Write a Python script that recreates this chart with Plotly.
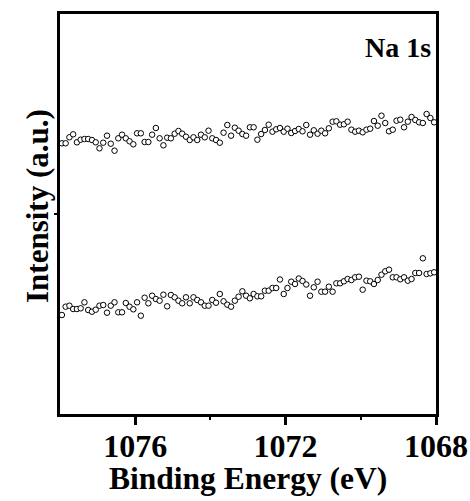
import numpy as np
import plotly.graph_objects as go

# Binding energy grid (eV), 0.1 eV step, high -> low
n_pts = 100
energy = np.round(1077.95 - 0.1 * np.arange(n_pts), 2)

upper_counts = [
    270.7, 270.7, 276.7, 279.7, 271.7, 274.3, 275, 275, 274, 271.7, 265.7, 271.3, 278.3, 270.3, 263.3,
    275.7, 279.3, 275.7, 272.7, 269.7, 280.7, 280.7, 272, 272, 279.3, 286, 275.7, 268.7, 276.3, 275.7,
    280.3, 283, 280.3,
    277.3, 274, 276.7, 274, 279.3, 276.7, 283.3, 275.7, 274, 271.3, 281.3, 289, 278.3, 286.3, 283.3,
    280, 278.3, 286.7, 286.7, 274.3, 280, 284, 289.3, 282.3, 284.7, 286, 282.3, 285.3, 281, 283, 285,
    282.7, 289,
    279.3, 283.7, 280.3, 283.3, 280.7, 285.7, 292.3, 292.7, 289.3, 289.7, 292.3, 284.3, 282.3, 283.3,
    281.7, 284.3, 285.3, 293, 288.3, 298.3, 291, 282.7, 284.3, 293.3, 294.3, 286.7, 292.3, 297, 294,
    291.7, 291, 300, 296, 291.7,
]

lower_counts = [
    99, 107.3, 108.3, 105, 105, 105.7, 111.7, 104, 102.3, 104.3, 108.3, 109, 101.3, 108.3, 111.7,
    101.7, 101.7, 111, 107.3, 104.7, 111.7, 98.3, 116.3, 110.7, 118.3, 115, 113.3, 119.3, 107.7, 119,
    116.7, 113.3, 110.7,
    116.7, 110.7, 116.7, 114, 111.7, 108.3, 108.3, 114, 111.3, 120, 112.7, 109.3, 107.3, 113.3, 117.3,
    122.7, 118.3, 115.7,
    120, 117.7, 117.7, 123.3, 123.3, 126, 126, 134.5, 120, 126, 132.3, 130, 135.5, 133, 129.5, 118.3,
    126.7, 132.3, 122.3, 122.3, 127.3, 122.3, 130.7, 130.7, 132.7, 135, 134, 136.7, 137.3, 124.3,
    133.3, 132.7, 130, 134, 139.3, 142.7, 144.3, 136.7, 136.7, 134.7, 136.7, 133.3, 135, 141, 141,
    155.7, 140, 140.7, 141.7,
]

x_ticks = [1076, 1072, 1068]
x_tick_labels = ["1076", "1072", "1068"]

FONT = "Liberation Serif"

marker = dict(symbol="circle", size=5.5, color="white",
              line=dict(color="black", width=1))

fig = go.Figure()
fig.add_trace(go.Scatter(x=energy, y=upper_counts, mode="markers", marker=marker,
                         showlegend=False))
fig.add_trace(go.Scatter(x=energy, y=lower_counts, mode="markers", marker=marker,
                         showlegend=False))

fig.add_annotation(text="<b>Na 1s</b>", xref="paper", yref="paper", x=0.992, y=0.917,
                   xanchor="right", yanchor="middle", showarrow=False,
                   font=dict(family=FONT, size=28, color="black"))
# axis titles
fig.add_annotation(text="<b>Binding Energy (eV)</b>", xref="paper", yref="paper",
                   x=0.5, y=0, yshift=-64, xanchor="center", yanchor="middle",
                   showarrow=False, font=dict(family=FONT, size=31.5, color="black"))
fig.add_annotation(text="<b>Intensity (a.u.)</b>", xref="paper", yref="paper",
                   x=0, xshift=-23, y=0.52, xanchor="center", yanchor="middle",
                   textangle=-90, showarrow=False,
                   font=dict(family=FONT, size=31, color="black"))

fig.update_layout(
    width=470, height=501,
    margin=dict(l=60, r=34, t=14, b=87),
    paper_bgcolor="white", plot_bgcolor="white",
    font=dict(family=FONT, color="black"),
    xaxis=dict(
        range=[1078, 1068], autorange=False, automargin=False,
        tickvals=x_ticks, ticktext=x_tick_labels,
        ticks="outside", ticklen=8, tickwidth=3, tickcolor="black",
        minor=dict(tickvals=[1074, 1070], ticks="outside", ticklen=3, tickwidth=2,
                   tickcolor="black"),
        showline=True, linewidth=3, linecolor="black", mirror=True,
        showgrid=False, zeroline=False,
        ticklabelstandoff=-6,
        tickfont=dict(family=FONT, size=32, color="black", weight="bold"),
    ),
    yaxis=dict(
        range=[0, 400], autorange=False, automargin=False,
        tickvals=[200], showticklabels=False,
        ticks="outside", ticklen=3, tickwidth=2, tickcolor="black",
        showline=True, linewidth=3, linecolor="black", mirror=True,
        showgrid=False, zeroline=False,
    ),
)

fig.write_html("out.html")
